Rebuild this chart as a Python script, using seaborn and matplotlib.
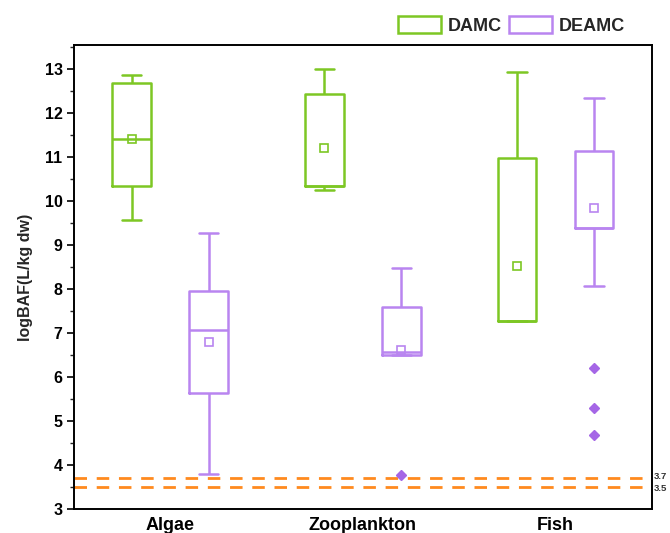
import numpy as np
import pandas as pd
import matplotlib
matplotlib.use("Agg")
import matplotlib.pyplot as plt
import matplotlib.transforms as mtransforms
from matplotlib.patches import Patch
from matplotlib.ticker import MultipleLocator
import seaborn as sns

# ---------------- data ----------------
categories = ["Algae", "Zooplankton", "Fish"]
groups = ["DAMC", "DEAMC"]

# sample values per box (whisker ends, quartiles, median, outliers)
algae_damc = [9.57, 10.34, 11.42, 12.67, 12.86]
algae_deamc = [3.80, 5.64, 7.07, 7.96, 9.27]
zoo_damc = [10.25, 10.34, 10.34, 12.42, 12.99]
zoo_deamc = [3.77, 6.49, 6.57, 7.58, 8.48]
fish_damc = [7.27, 7.27, 7.27, 10.97, 12.92]
fish_deamc = [4.68, 5.29, 6.21, 8.07, 9.39, 9.39, 9.39, 9.39, 9.39,
              11.14, 11.14, 11.14, 11.14, 12.35, 12.35, 12.35, 12.35]

# mean markers
means_damc = [11.40, 11.20, 8.53]
means_deamc = [6.80, 6.61, 9.85]

# reference lines
ref_values = [3.7, 3.5]
ref_labels = ["3.7", "3.5"]

# ---------------- build tables ----------------
samples = {
    ("Algae", "DAMC"): algae_damc,
    ("Algae", "DEAMC"): algae_deamc,
    ("Zooplankton", "DAMC"): zoo_damc,
    ("Zooplankton", "DEAMC"): zoo_deamc,
    ("Fish", "DAMC"): fish_damc,
    ("Fish", "DEAMC"): fish_deamc,
}
rows = []
for (cat, grp), vals in samples.items():
    for v in vals:
        rows.append({"category": cat, "group": grp, "value": v})
df = pd.DataFrame(rows)

df_means = pd.DataFrame({
    "category": categories * 2,
    "group": ["DAMC"] * 3 + ["DEAMC"] * 3,
    "mean": means_damc + means_deamc,
})

# ---------------- style ----------------
sns.set_theme(style="white")
plt.rcParams["font.family"] = ["Liberation Sans", "DejaVu Sans"]
plt.rcParams["font.weight"] = "bold"

green = "#7DC724"
purple = "#B985F0"
purple_dark = "#A566E6"
orange = "#FF8A1E"
palette = {"DAMC": green, "DEAMC": purple}

fig = plt.figure(figsize=(6.7, 5.33), dpi=100)
ax = fig.add_axes([0.110, 0.045, 0.863, 0.871])

sns.boxplot(
    data=df, x="category", y="value", hue="group",
    order=categories, hue_order=groups, palette=palette,
    fill=False, width=0.8, gap=0.5, linewidth=1.8, whis=1.5,
    fliersize=5,
    flierprops=dict(marker="D", markerfacecolor=purple_dark,
                    markeredgecolor=purple_dark),
    legend=False, ax=ax,
)

sns.pointplot(
    data=df_means, x="category", y="mean", hue="group",
    order=categories, hue_order=groups, palette=palette,
    dodge=0.4, markers="s", linestyle="none", errorbar=None,
    markersize=6, markerfacecolor="none", markeredgewidth=1.2,
    legend=False, ax=ax,
)

# reference lines
trans = mtransforms.blended_transform_factory(ax.transAxes, ax.transData)
nudges = [1.2, -1.2]  # points, to keep the two small labels apart
for v, lab, dy in zip(ref_values, ref_labels, nudges):
    ax.axhline(v, color=orange, lw=2, dashes=(4.5, 3.5), zorder=1)
    t = trans + mtransforms.ScaledTranslation(0, dy / 72, fig.dpi_scale_trans)
    ax.text(1.004, v, lab, transform=t, fontsize=6.8, fontweight="bold",
            color="#333333", va="center", ha="left")

ax.set_xlim(-0.5, 2.5)
ax.set_ylim(3, 13.55)
ax.yaxis.set_major_locator(MultipleLocator(1))
ax.yaxis.set_minor_locator(MultipleLocator(0.5))
ax.tick_params(axis="y", which="major", direction="out", length=5, width=1.2,
               left=True, labelsize=11.5, pad=3, colors="black")
ax.tick_params(axis="y", which="minor", direction="out", length=3, width=1.0,
               left=True)
ax.tick_params(axis="x", length=0, labelsize=13, pad=6, colors="black")
for lbl in ax.get_xticklabels() + ax.get_yticklabels():
    lbl.set_fontweight("bold")
ax.set_xlabel("")
ax.set_ylabel("logBAF(L/kg dw)", fontsize=11.5, fontweight="bold", labelpad=8)

for sp in ax.spines.values():
    sp.set_visible(True)
    sp.set_color("black")
    sp.set_linewidth(1.4)

handles = [Patch(facecolor="none", edgecolor=green, linewidth=1.8),
           Patch(facecolor="none", edgecolor=purple, linewidth=1.8)]
fig.legend(handles, groups, loc="center", bbox_to_anchor=(0.763, 0.953),
           ncol=2, frameon=False,
           prop={"weight": "bold", "size": 13},
           handlelength=2.4, handleheight=1.15, handletextpad=0.35,
           columnspacing=0.4)

fig.savefig("out.png", dpi=100)
